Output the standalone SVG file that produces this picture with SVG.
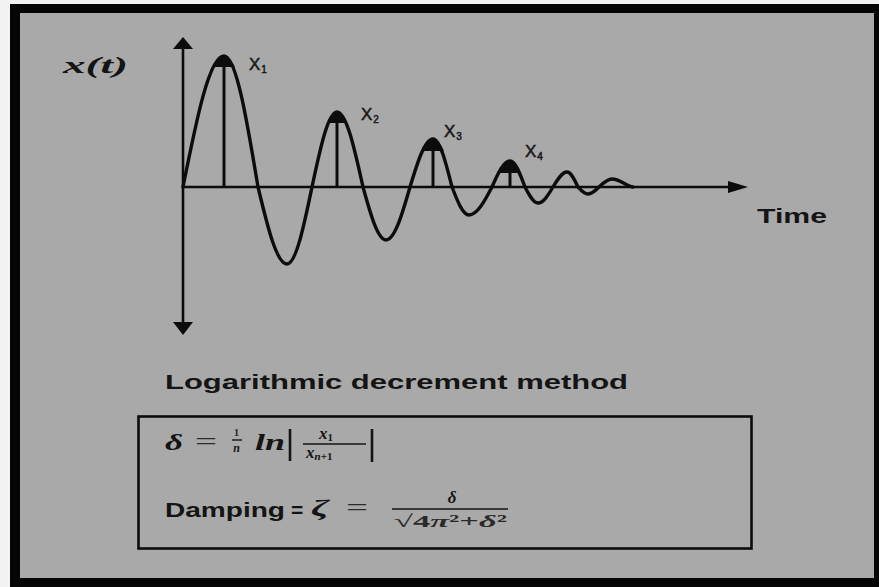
<svg xmlns="http://www.w3.org/2000/svg" width="879" height="587" viewBox="0 0 879 587">
<style>
.ax{stroke:#0c0c0c;stroke-width:2.6;fill:none}
.wave{stroke:#0c0c0c;stroke-width:3.4;fill:none;stroke-linecap:round;stroke-linejoin:round}
.stem{stroke:#0c0c0c;stroke-width:3}
.cap{fill:#0c0c0c}
.head{fill:#0c0c0c}
.lbl{font-family:"Liberation Sans",Arial,sans-serif;fill:#141414}
.xl{font-family:"Liberation Sans",Arial,sans-serif;fill:#1a1a1a;font-size:17px;stroke:#1a1a1a;stroke-width:0.5}
.math{font-family:"Liberation Serif","Times New Roman",serif;font-style:italic;font-weight:bold;fill:#141414}
.rm{font-family:"Liberation Serif","Times New Roman",serif;fill:#2a2a2a}
.rule{stroke:#141414;stroke-width:1.4}
</style>
<rect x="0" y="0" width="879" height="587" fill="#f2f2f2"/>
<rect x="10" y="4" width="869" height="583" fill="#050505"/>
<rect x="20" y="13" width="854" height="565" fill="#a9a9a9"/>

<g id="axes">
<line class="ax" x1="183" y1="46" x2="183" y2="326"/>
<polygon class="head" points="183,37 173,49 193,49"/>
<polygon class="head" points="183,335 173,322 193,322"/>
<line class="ax" x1="183" y1="187" x2="732" y2="187"/>
<polygon class="head" points="748,187 728,181 728,193"/>
</g>

<g id="wave">
<path class="wave" d="M183,187 C196.4,119.9 209.2,56 224,56 C236.3,56 246.9,119.9 258,187 C267.5,226.4 276.5,264 287,264 C296,264 303.8,226.4 312,187 C320.2,148.6 328,112 337,112 C346.4,112 354.5,148.6 363,187 C370.5,214.2 377.7,240 386,240 C394.7,240 402.2,214.2 410,187 C417.5,162.4 424.7,139 433,139 C439.9,139 445.8,162.4 452,187 C457.5,201.3 462.8,215 469,215 C477.3,215 484.5,201.3 492,187 C497.9,173.7 503.5,161 510,161 C515.4,161 520.1,173.7 525,187 C529.2,195.2 533.3,203 538,203 C543.4,203 548.1,195.2 553,187 C557.6,179.3 561.9,172 567,172 C571,172 574.4,179.3 578,187 C581.3,190.6 584.4,194 588,194 C592,194 595.4,190.6 599,187 C603.2,182.9 607.3,179 612,179 C620,179 626,186 633,187"/>
<path class="cap" d="M213,67 Q224,45 235,67 Z"/>
<path class="cap" d="M327,123 Q337,101 347,123 Z"/>
<path class="cap" d="M422,151 Q433,127 444,151 Z"/>
<path class="cap" d="M499,173 Q510,149 521,173 Z"/>
<line class="stem" x1="224" y1="64" x2="224" y2="187"/>
<line class="stem" x1="337" y1="120" x2="337" y2="187"/>
<line class="stem" x1="433" y1="148" x2="433" y2="187"/>
<line class="stem" x1="510" y1="170" x2="510" y2="187"/>
</g>

<g id="labels">
<text class="math" x="63" y="73" font-size="24" textLength="65" lengthAdjust="spacingAndGlyphs">x(t)</text>
<text class="xl" x="249" y="70">X<tspan font-size="10" dy="3" dx="1">1</tspan></text>
<text class="xl" x="361" y="120">X<tspan font-size="10" dy="3" dx="1">2</tspan></text>
<text class="xl" x="444" y="137">X<tspan font-size="10" dy="3" dx="1">3</tspan></text>
<text class="xl" x="525" y="157">X<tspan font-size="10" dy="3" dx="1">4</tspan></text>
<text class="lbl" x="757" y="223" font-size="21" font-weight="bold" textLength="70" lengthAdjust="spacingAndGlyphs">Time</text>
<text class="lbl" x="165" y="389" font-size="21" font-weight="bold" textLength="463" lengthAdjust="spacingAndGlyphs">Logarithmic decrement method</text>
</g>

<g id="formula-box">
<rect x="138.5" y="416.5" width="613" height="132" fill="none" stroke="#0c0c0c" stroke-width="2.6"/>
<text class="math" x="165" y="450" font-size="24" textLength="18" lengthAdjust="spacingAndGlyphs">δ</text>
<text class="rm" x="195" y="450" font-size="26" textLength="22" lengthAdjust="spacingAndGlyphs">=</text>
<text class="rm" x="236.5" y="436" font-size="11" font-weight="bold" text-anchor="middle">1</text>
<line class="rule" x1="232" y1="440" x2="242" y2="440"/>
<text class="math" x="236.5" y="452" font-size="12" text-anchor="middle">n</text>
<text class="math" x="255" y="450" font-size="24" textLength="30" lengthAdjust="spacingAndGlyphs">ln</text>
<line x1="290" y1="429" x2="290" y2="461" stroke="#141414" stroke-width="2.6"/>
<text class="math" x="319" y="439" font-size="17">x<tspan font-size="11" dy="2" font-style="normal">1</tspan></text>
<line class="rule" x1="303" y1="444" x2="366" y2="444"/>
<text class="math" x="306" y="458" font-size="17">x<tspan font-size="11" dy="2">n</tspan><tspan font-size="11" font-style="normal">+1</tspan></text>
<line x1="372" y1="429" x2="372" y2="462" stroke="#141414" stroke-width="2.6"/>

<text class="lbl" x="165" y="517" font-size="21" font-weight="bold" textLength="120" lengthAdjust="spacingAndGlyphs">Damping</text>
<text class="lbl" x="291" y="517" font-size="21" font-weight="bold">=</text>
<text class="math" x="311" y="515" font-size="24" textLength="18" lengthAdjust="spacingAndGlyphs">ζ</text>
<text class="rm" x="346" y="516" font-size="26" textLength="22" lengthAdjust="spacingAndGlyphs">=</text>
<text class="math" x="452" y="503" font-size="17" text-anchor="middle">δ</text>
<line class="rule" x1="392" y1="509" x2="508" y2="509"/>
<text class="rm" x="394" y="527" font-size="17" font-weight="bold" fill="#141414" textLength="113" lengthAdjust="spacingAndGlyphs">√4<tspan font-style="italic">π</tspan>²+<tspan font-style="italic">δ</tspan>²</text>
</g>
</svg>
